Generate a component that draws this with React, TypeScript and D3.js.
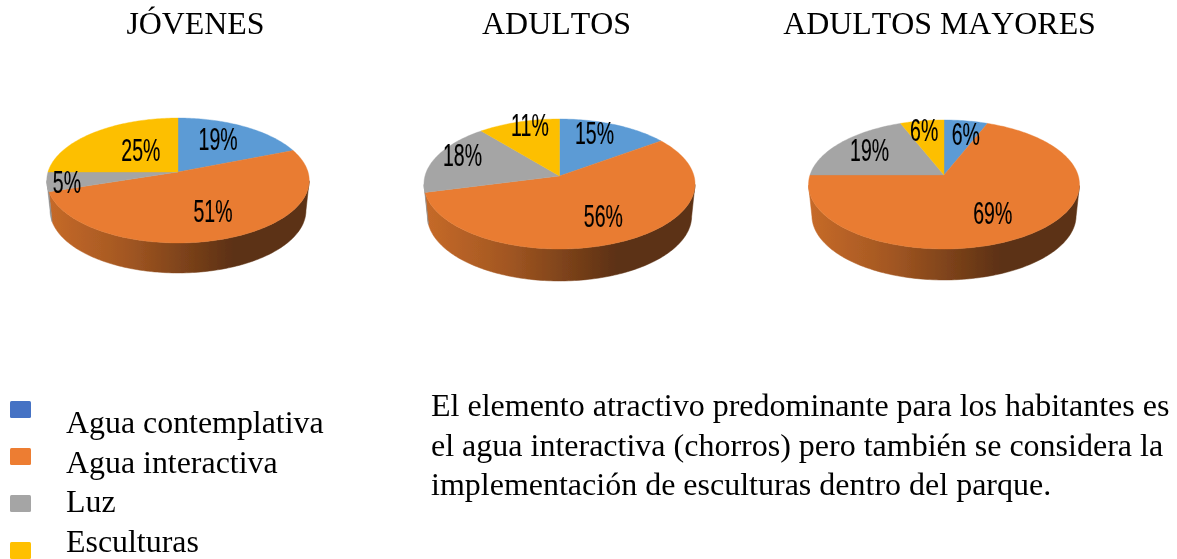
import React from "react";
import * as d3 from "d3";

const titles = ["JÓVENES", "ADULTOS", "ADULTOS MAYORES"];
const categories = ["Agua contemplativa", "Agua interactiva", "Luz", "Esculturas"];
const jovenes = [19, 51, 5, 25];
const adultos = [15, 56, 18, 11];
const mayores = [6, 69, 19, 6];
const paragraph = [
  "El elemento atractivo predominante para los habitantes es",
  "el agua interactiva (chorros) pero también se considera la",
  "implementación de esculturas dentro del parque.",
];

const sliceColors = ["#5b9bd5", "#e97c30", "#a5a5a5", "#fdbf00"];
const legendColors = ["#4472c4", "#ed7d31", "#a5a5a5", "#ffc000"];

// layout of each 3D pie: apex, radius, tilted radius, perspective, depth
const pies = [
  { title: titles[0], titleX: 195.5, values: jovenes, cx: 178, cy: 172, R: 130, Rt: 61.3, k: 0.136, depth: 30,
    nudge: [[-1, -5.5], [6.4, 1.5], [-33, 4], [15, 1.6]] },
  { title: titles[1], titleX: 556.5, values: adultos, cx: 559.5, cy: 176, R: 134.5, Rt: 64, k: 0.123, depth: 32,
    nudge: [[0.6, -11], [7, 2], [-22, -10], [-4, -18]] },
  { title: titles[2], titleX: 939.5, values: mayores, cx: 944, cy: 175, R: 134, Rt: 63.1, k: 0.147, depth: 31,
    nudge: [[8, -7], [0, 4], [-11, -5], [-6, -11]] },
];

type P = (typeof pies)[number];

function project(p: P, theta: number, r = 1): [number, number] {
  const u = Math.sin(theta) * r;
  const v = -Math.cos(theta) * r;
  const w = 1 - p.k * v;
  return [p.cx + (p.R * u) / w, p.cy + (p.Rt * v) / w];
}

const line = d3.line();

function Pie({ p, idx }: { p: P; idx: number }) {
  const arcs = d3.pie<number>().sort(null)(p.values);
  const samples = (a0: number, a1: number) => {
    const n = Math.max(2, Math.ceil((a1 - a0) / 0.02));
    return d3.range(n + 1).map((i) => a0 + ((a1 - a0) * i) / n);
  };
  return (
    <g>
      <defs>
        {sliceColors.map((c, i) => {
          const base = d3.rgb(c);
          return (
            <linearGradient key={i} id={`w${idx}-${i}`} gradientUnits="userSpaceOnUse" x1={p.cx - p.R} x2={p.cx + p.R} y1={0} y2={0}>
              <stop offset="0" stopColor={base.darker(0.45).formatHex()} />
              <stop offset="0.3" stopColor={base.darker(1).formatHex()} />
              <stop offset="0.72" stopColor={base.darker(2.65).formatHex()} />
              <stop offset="1" stopColor={base.darker(2.65).formatHex()} />
            </linearGradient>
          );
        })}
      </defs>
      {arcs.map((a, i) => {
        const angles = samples(a.startAngle, a.endAngle).filter((t) => -Math.cos(t) >= p.k);
        if (angles.length < 2) return null;
        const top = angles.map((t) => project(p, t));
        const bottom = top.map(([x, y]) => [p.cx + (x - p.cx) * 0.975, y + p.depth] as [number, number]).reverse();
        return <path key={i} d={line([...top, ...bottom])! + "Z"} fill={`url(#w${idx}-${i})`} stroke={`url(#w${idx}-${i})`} strokeWidth={0.5} />;
      })}
      {arcs.map((a, i) => {
        const rim = samples(a.startAngle, a.endAngle).map((t) => project(p, t));
        return <path key={i} d={line([[p.cx, p.cy], ...rim])! + "Z"} fill={sliceColors[i]} stroke={sliceColors[i]} strokeWidth={0.4} />;
      })}
      {arcs.map((a, i) => {
        const mid = (a.startAngle + a.endAngle) / 2;
        const [x, y] = project(p, mid, 0.6);
        const [dx, dy] = p.nudge[i];
        return (
          <text key={i} transform={`translate(${x + dx},${y + dy + 11.5}) scale(0.61,1)`} textAnchor="middle"
            fontFamily="'Liberation Sans'" fontSize={32} fill="#000" stroke="#000" strokeWidth={0.2}>
            {a.value}%
          </text>
        );
      })}
    </g>
  );
}

export default function App() {
  const legendY = d3.scaleLinear().domain([0, 3]).range([401, 542]);
  const legendText = d3.scaleLinear().domain([0, 3]).range([433, 552]);
  const paraY = d3.scaleLinear().domain([0, 2]).range([416, 495]);
  const serif = "'Liberation Serif'";
  return (
    <svg width={1177} height={559} style={{ position: "absolute", left: 0, top: 0, display: "block" }}>
      <defs>
        <filter id="soft" x="-5%" y="-5%" width="110%" height="110%">
          <feGaussianBlur stdDeviation="0.55" />
        </filter>
        <filter id="softText" x="-5%" y="-5%" width="110%" height="110%">
          <feGaussianBlur stdDeviation="0.3" />
        </filter>
      </defs>
      <rect width={1177} height={559} fill="#fff" />
      <g filter="url(#soft)">
        {pies.map((p, i) => (
          <Pie key={i} p={p} idx={i} />
        ))}
        {categories.map((c, i) => (
          <rect key={c} x={10} y={legendY(i)} width={21} height={17} rx={1.5} fill={legendColors[i]} />
        ))}
      </g>
      <g filter="url(#softText)" fontFamily={serif} fontSize={31.9} fill="#000">
        {pies.map((p) => (
          <text key={p.title} x={p.titleX} y={34} textAnchor="middle" style={{ fontKerning: "none" }}>{p.title}</text>
        ))}
        {categories.map((c, i) => (
          <text key={c} x={66} y={legendText(i)}>{c}</text>
        ))}
        {paragraph.map((l, i) => (
          <text key={i} x={431} y={paraY(i)} fontSize={32}>{l}</text>
        ))}
      </g>
    </svg>
  );
}
